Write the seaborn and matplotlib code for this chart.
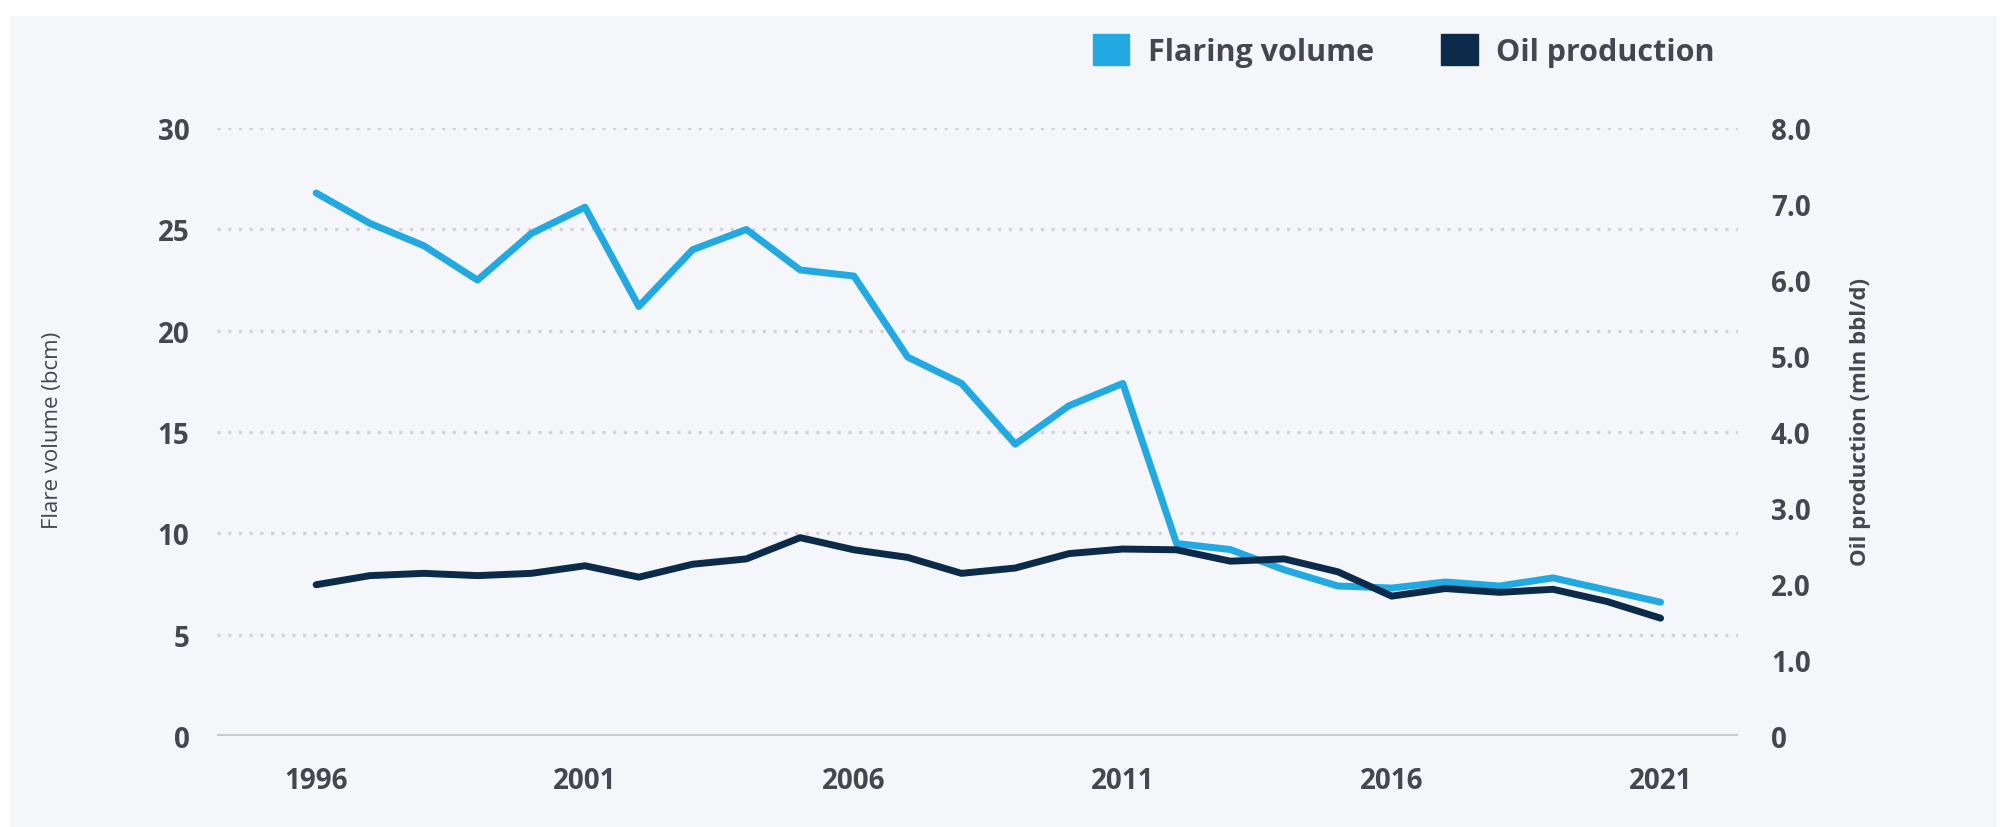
import matplotlib
matplotlib.use("Agg")
import matplotlib.pyplot as plt
import matplotlib.patches as mpatches
import seaborn as sns
import pandas as pd

# datos
anios = list(range(1996, 2022))
flaring = [26.8, 25.3, 24.2, 22.5, 24.8, 26.1, 21.2, 24.0, 25.0, 23.0,
           22.7, 18.7, 17.4, 14.4, 16.3, 17.4, 9.5, 9.2, 8.2, 7.4,
           7.3, 7.6, 7.4, 7.8, 7.2, 6.6]
oil = [1.99, 2.11, 2.14, 2.11, 2.14, 2.24, 2.09, 2.26, 2.33, 2.61,
       2.45, 2.35, 2.14, 2.21, 2.40, 2.46, 2.45, 2.30, 2.33, 2.16,
       1.84, 1.94, 1.89, 1.93, 1.77, 1.55]
xticks = [1996, 2001, 2006, 2011, 2016, 2021]
left_ticks = [0, 5, 10, 15, 20, 25, 30]
right_ticks = [0, 1, 2, 3, 4, 5, 6, 7, 8]

df = pd.DataFrame({"anio": anios, "flaring": flaring, "oil": oil})

col_flare = "#22a9e1"
col_oil = "#0c2b4b"
col_txt = "#45464f"
bg = "#f5f6f9"

sns.set_theme(style="white")
plt.rcParams["font.family"] = ["Open Sans", "DejaVu Sans"]

fig = plt.figure(figsize=(20.11, 8.28), dpi=100, facecolor="white")
fig.patches.append(mpatches.Rectangle((0.005, 0), 0.988, 0.98, transform=fig.transFigure,
                                      facecolor=bg, edgecolor="none", zorder=-10))
ax = fig.add_axes([0.108, 0.110, 0.756, 0.734])
ax.set_facecolor("none")
ax2 = ax.twinx()

sns.lineplot(data=df, x="anio", y="flaring", ax=ax, color=col_flare, linewidth=5, zorder=3)
sns.lineplot(data=df, x="anio", y="oil", ax=ax2, color=col_oil, linewidth=5, zorder=4)

ax.set_xlim(1994.16, 2022.43)
ax.set_ylim(0, 30)
ax2.set_ylim(0, 8)

for s in ["top", "right", "left", "bottom"]:
    ax.spines[s].set_visible(False)
    ax2.spines[s].set_visible(False)

for t in left_ticks[1:]:
    ax.axhline(t, color="#d0d1d8", linewidth=2.2, linestyle=(0, (1, 2.5)), zorder=1)
ax.axhline(0, color="#c9cace", linewidth=3, zorder=1)

ax.set_xticks(xticks)
ax.set_xticklabels([str(x) for x in xticks], fontsize=20, fontweight="bold", color=col_txt)
ax.set_yticks(left_ticks)
ax.set_yticklabels([str(t) for t in left_ticks], fontsize=20, fontweight="bold", color=col_txt)
ax2.set_yticks(right_ticks)
ax2.set_yticklabels(["0" if t == 0 else f"{t:.1f}" for t in right_ticks],
                    fontsize=20, fontweight="bold", color=col_txt)
ax.tick_params(axis="x", length=0, pad=22)
ax.tick_params(axis="y", length=0, pad=20)
ax2.tick_params(axis="y", length=0, pad=24)

ax.set_xlabel("")
ax.set_ylabel("")
ax2.set_ylabel("")
fig.text(0.026, 0.48, "Flare volume (bcm)", rotation=90, ha="center", va="center",
         fontsize=16, color=col_txt)
fig.text(0.925, 0.49, "Oil production (mln bbl/d)", rotation=90, ha="center", va="center",
         fontsize=16, color=col_txt, fontweight="bold")

handles = [mpatches.Patch(color=col_flare, label="Flaring volume"),
           mpatches.Patch(color=col_oil, label="Oil production")]
leg = fig.legend(handles=handles, loc="center", bbox_to_anchor=(0.698, 0.938), ncol=2,
                 frameon=False, handlelength=1.2, handleheight=1.2, columnspacing=2.2,
                 handletextpad=0.6, prop={"size": 22, "weight": "bold"})
for t in leg.get_texts():
    t.set_color(col_txt)

fig.savefig("out.png", dpi=100, facecolor=fig.get_facecolor())
